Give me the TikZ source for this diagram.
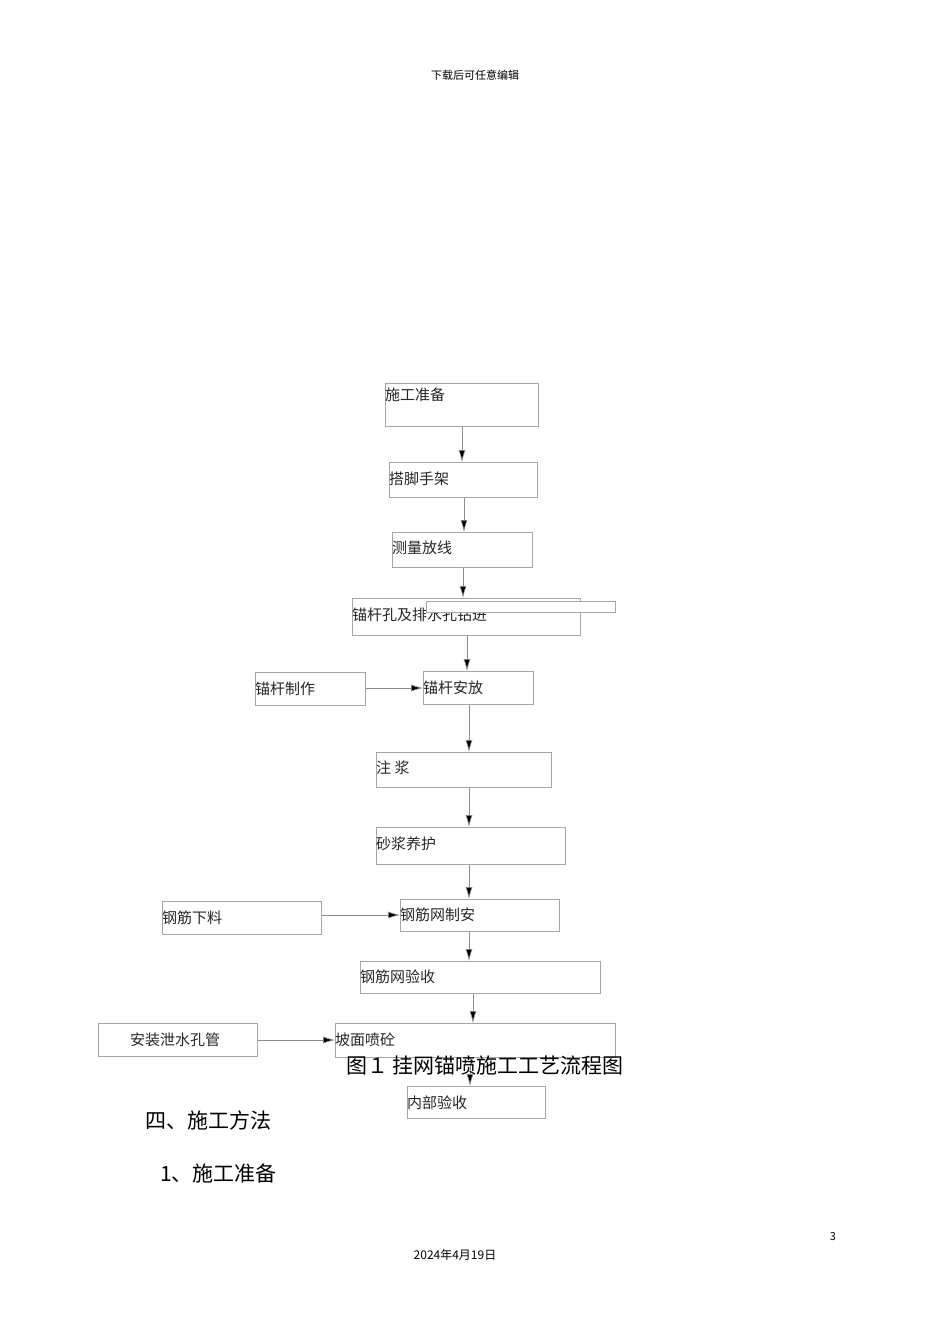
\documentclass[tikz,border=0pt]{standalone}
\usepackage{fontspec}
\newfontfamily\cjk{Noto Sans CJK SC}
\usetikzlibrary{arrows.meta}
\begin{document}
\begin{tikzpicture}[x=1pt,y=-1pt,
  box/.style={draw=black!35,line width=0.6pt,anchor=north west,inner sep=0pt},
  bt/.style={anchor=west,inner sep=0pt,font=\cjk\fontsize{15}{15}\selectfont,text=black!85},
  ar/.style={draw=black!45,line width=0.6pt,-{Latex[length=12pt,width=7pt,fill=black]}}]
\useasboundingbox[fill=white] (0,0) rectangle (950,1344);
\newcommand\bx[6]{\node[box,minimum width=#4-#2,minimum height=#5-#3] (#1) at (#2,#3) {};\node[bt] (#1t) at (#2,#6) {#1};}
\node[box,minimum width=153,minimum height=43] (a) at (385,383) {};
\node[bt] at (385,395) {施工准备};
\node[box,minimum width=148,minimum height=35] (b) at (389,462) {};
\node[bt] at (389,479) {搭脚手架};
\node[box,minimum width=140,minimum height=35] (c) at (392,532) {};
\node[bt] at (392,548) {测量放线};
\node[box,minimum width=228,minimum height=37] (d) at (352,598) {};
\node[bt] at (352,615) {锚杆孔及排水孔钻进};
\node[box,fill=white,minimum width=189,minimum height=11] (dx) at (426,601) {};
\node[box,minimum width=110,minimum height=33] (e0) at (255,672) {};
\node[bt] at (255,689) {锚杆制作};
\node[box,minimum width=110,minimum height=33] (e) at (423,671) {};
\node[bt] at (423,688) {锚杆安放};
\node[box,minimum width=175,minimum height=35] (f) at (376,752) {};
\node[bt] at (376,768) {注 浆};
\node[box,minimum width=189,minimum height=37] (g) at (376,827) {};
\node[bt] at (376,844) {砂浆养护};
\node[box,minimum width=159,minimum height=33] (h0) at (162,901) {};
\node[bt] at (162,918) {钢筋下料};
\node[box,minimum width=159,minimum height=32] (h) at (400,899) {};
\node[bt] at (400,915) {钢筋网制安};
\node[box,minimum width=240,minimum height=32] (i) at (360,961) {};
\node[bt] at (360,977) {钢筋网验收};
\node[box,minimum width=159,minimum height=33] (j0) at (98,1023) {};
\node[bt] at (130,1040) {安装泄水孔管};
\node[box,minimum width=280,minimum height=34] (j) at (335,1023) {};
\node[bt] at (335,1040) {坡面喷砼};
\node[box,minimum width=138,minimum height=32] (k) at (407,1086) {};
\node[bt] at (407,1103) {内部验收};
\draw[ar] (462,0 |- a.south) -- (462,0 |- b.north);
\draw[ar] (464,0 |- b.south) -- (464,0 |- c.north);
\draw[ar] (463,0 |- c.south) -- (463,0 |- d.north);
\draw[ar] (467,0 |- d.south) -- (467,0 |- e.north);
\draw[ar] (469,0 |- e.south) -- (469,0 |- f.north);
\draw[ar] (469,0 |- f.south) -- (469,0 |- g.north);
\draw[ar] (469,0 |- g.south) -- (469,0 |- h.north);
\draw[ar] (469,0 |- h.south) -- (469,0 |- i.north);
\draw[ar] (473,0 |- i.south) -- (473,0 |- j.north);
\draw[ar] (470,0 |- j.south) -- (470,0 |- k.north);
\draw[ar] (e0.east |- 0,688) -- (e.west |- 0,688);
\draw[ar] (h0.east |- 0,915) -- (h.west |- 0,915);
\draw[ar] (j0.east |- 0,1040) -- (j.west |- 0,1040);
\node[anchor=west,inner sep=0pt,font=\cjk\fontsize{21}{21}\selectfont] (cap) at (346,1066) {图１ 挂网锚喷施工工艺流程图};
\node[anchor=west,inner sep=0pt,font=\cjk\fontsize{21}{21}\selectfont] (s1) at (145,1120) {四、施工方法};
\node[anchor=west,inner sep=0pt,font=\cjk\fontsize{21}{21}\selectfont] (s2) at (160,1173) {1、施工准备};
\node[inner sep=0pt,font=\cjk\fontsize{11}{11}\selectfont] (hd) at (475,75) {下载后可任意编辑};
\node[inner sep=0pt,font=\cjk\fontsize{11}{11}\selectfont] (pg) at (833,1237) {3};
\node[inner sep=0pt,font=\cjk\fontsize{12}{12}\selectfont] (dt) at (455,1255) {2024年4月19日};
\end{tikzpicture}
\end{document}
